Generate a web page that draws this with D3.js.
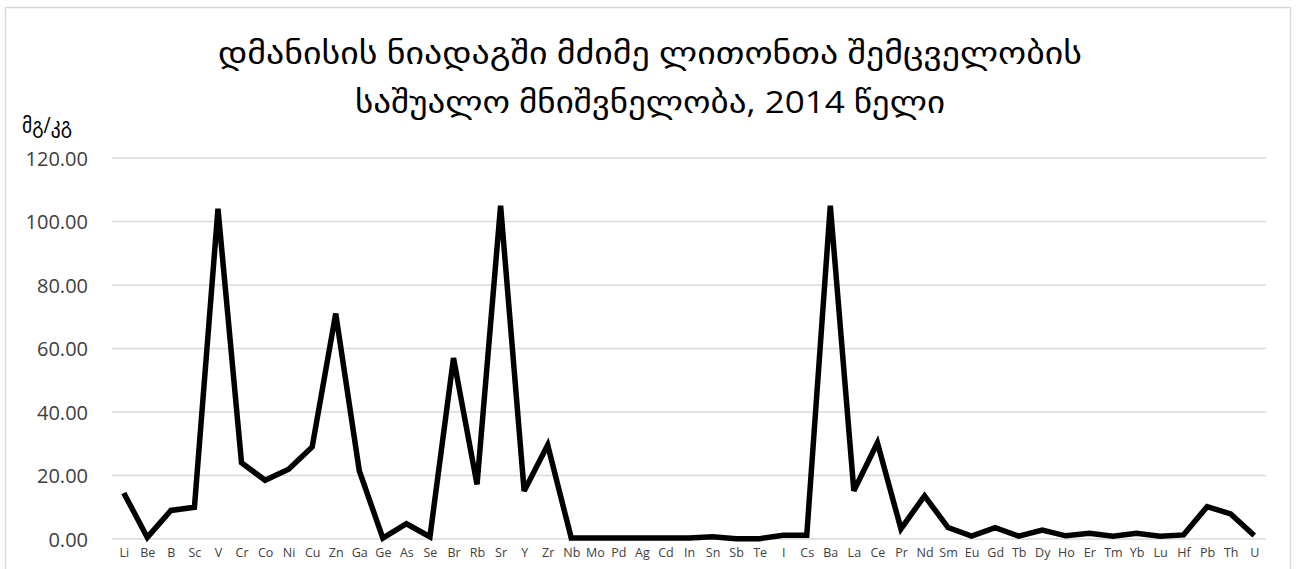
<!DOCTYPE html>
<html>
<head>
<meta charset="utf-8">
<script src="https://cdn.jsdelivr.net/npm/d3@7"></script>
<style>
  body { margin: 0; background: #fff; }
  text { font-family: "Open Sans", "DejaVu Sans", sans-serif; }
</style>
</head>
<body>
<div id="container"></div>
<script>
const elements = ["Li","Be","B","Sc","V","Cr","Co","Ni","Cu","Zn","Ga","Ge","As","Se","Br","Rb","Sr","Y","Zr","Nb","Mo","Pd","Ag","Cd","In","Sn","Sb","Te","I","Cs","Ba","La","Ce","Pr","Nd","Sm","Eu","Gd","Tb","Dy","Ho","Er","Tm","Yb","Lu","Hf","Pb","Th","U"];
const values = [14.5,0.5,9,10,104,24,18.5,22,29,71,21.5,0.3,4.8,0.7,57,17.2,105,15.1,29.6,0.3,0.3,0.3,0.3,0.3,0.3,0.7,0.1,0.1,1.2,1.2,105,15.2,30.3,3.2,13.6,3.6,0.9,3.6,0.9,2.8,1,1.8,0.9,1.8,0.9,1.3,10.2,7.9,1.1];
const yTicks = [0,20,40,60,80,100,120];
const titleLines = ["დმანისის ნიადაგში მძიმე ლითონთა შემცველობის", "საშუალო მნიშვნელობა, 2014 წელი"];
const unitLabel = "მგ/კგ";

const W = 1298, H = 569;
const margin = { top: 158, right: 32, bottom: 29, left: 112 };

const svg = d3.select("#container").append("svg")
  .attr("width", W).attr("height", H);

// chart frame
svg.append("rect")
  .attr("x", 5.5).attr("y", 7.5)
  .attr("width", W - 13).attr("height", H)
  .attr("fill", "#fff").attr("stroke", "#d9d9d9").attr("stroke-width", 1.5);

const x = d3.scalePoint().domain(elements)
  .range([margin.left, W - margin.right]).padding(0.5);
const y = d3.scaleLinear().domain([0, 120])
  .range([H - margin.bottom - 1, margin.top]);

// gridlines
svg.append("g").selectAll("line").data(yTicks).enter().append("line")
  .attr("x1", margin.left).attr("x2", W - margin.right)
  .attr("y1", d => y(d)).attr("y2", d => y(d))
  .attr("stroke", "#d9d9d9").attr("stroke-width", 1.5);

// y axis
const yAxis = svg.append("g")
  .attr("transform", `translate(${margin.left - 21},0)`)
  .call(d3.axisLeft(y).tickValues(yTicks).tickFormat(d3.format(".2f")).tickSize(0));
yAxis.select(".domain").remove();
yAxis.selectAll("text").attr("font-size", "20px").attr("fill", "#404040").attr("dy", "0.35em");

// x axis
const xAxis = svg.append("g")
  .attr("transform", `translate(0,${H - margin.bottom})`)
  .call(d3.axisBottom(x).tickSize(0));
xAxis.select(".domain").remove();
xAxis.selectAll("text").attr("font-size", "12.5px").attr("fill", "#404040").attr("dy", "1.1em");

// line
const line = d3.line().x((d, i) => x(elements[i])).y(d => y(d));
svg.append("path").datum(values)
  .attr("d", line)
  .attr("fill", "none").attr("stroke", "#000")
  .attr("stroke-width", 5.5).attr("stroke-linejoin", "miter").attr("stroke-miterlimit", 3);

// title (stretched to the reference width)
const titleWidths = [864, 590];
svg.append("g").selectAll("text").data(titleLines).enter().append("text")
  .attr("x", 650).attr("y", (d, i) => 64 + i * 49)
  .attr("text-anchor", "middle").attr("font-size", "31px").attr("fill", "#000")
  .attr("textLength", (d, i) => titleWidths[i]).attr("lengthAdjust", "spacingAndGlyphs")
  .text(d => d);

svg.append("text")
  .attr("x", 22).attr("y", 133)
  .attr("font-size", "21px").attr("fill", "#000")
  .attr("textLength", 50).attr("lengthAdjust", "spacingAndGlyphs")
  .text(unitLabel);
</script>
</body>
</html>
